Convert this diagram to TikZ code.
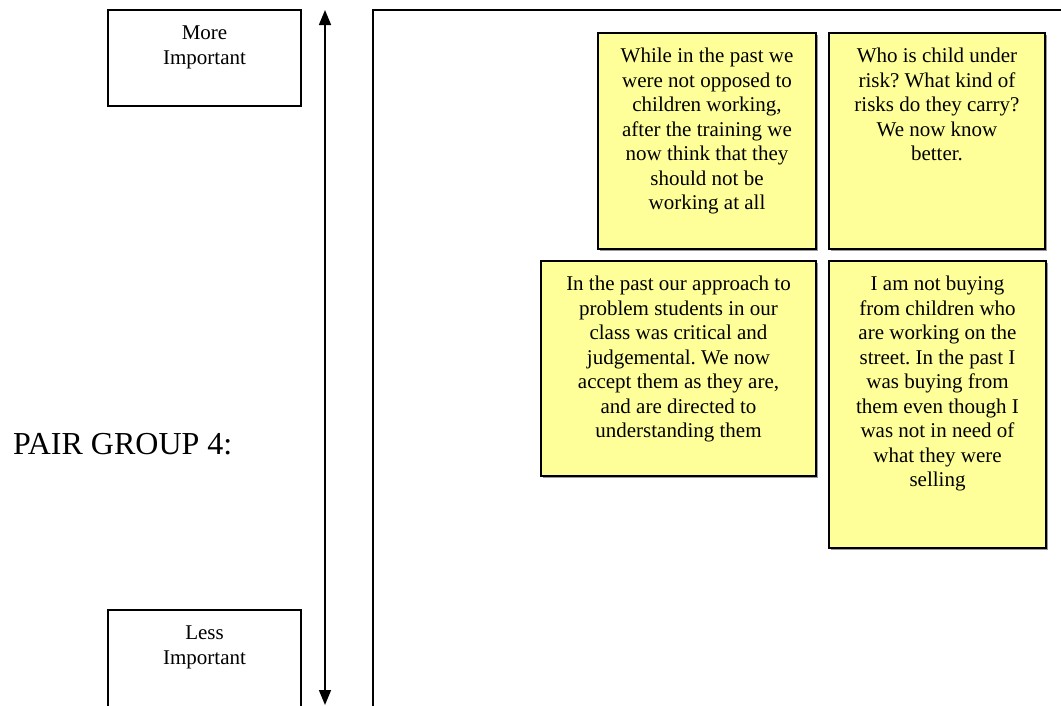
\documentclass[tikz,border=0pt]{standalone}
\usepackage{fontspec}
\setmainfont{Liberation Serif}
\usetikzlibrary{arrows.meta,shadows}
\definecolor{notefill}{HTML}{FFFF99}
\frenchspacing
\begin{document}
\begin{tikzpicture}[x=1pt,y=-1pt,
  every node/.style={inner sep=0pt, outer sep=0pt},
  rankbox/.style={draw, line width=1.6pt, fill=white, anchor=north west},
  note/.style={draw, line width=1.8pt, fill=notefill, anchor=north west,
    drop shadow={shadow xshift=2.4pt, shadow yshift=-2.4pt, fill=black!40, opacity=1}},
  body/.style={font=\fontsize{21}{24.5}\selectfont\frenchspacing, align=center, anchor=north},
  axis/.style={line width=1.6pt, {Triangle[length=15pt,width=12pt]}-{Triangle[length=15pt,width=12pt]}},
  frame/.style={line width=1.8pt}]
\useasboundingbox (0,0) rectangle (1061,705);

% importance scale on the left
\node[rankbox, minimum width=193pt, minimum height=96pt] (more) at (108,10) {};
\node[body] (moret) at ([yshift=-16pt]more.north) {More\\Important};
\node[rankbox, minimum width=193pt, minimum height=110pt] (less) at (108,610) {};
\node[body] (lesst) at ([yshift=-16pt]less.north) {Less\\Important};

\coordinate (axtop) at (325,10);
\coordinate (axbot) at (325,705);
\draw[axis] (axbot) -- (axtop);

\node[font=\fontsize{32}{36}\selectfont, anchor=base west] (group) at (13,454) {PAIR GROUP 4:};

% board frame
\coordinate (frbot) at (373,720);
\coordinate (frcorner) at (373,10);
\coordinate (frright) at (1080,10);
\draw[frame] (frbot) -- (frcorner) -- (frright);

% sticky notes
\node[note, minimum width=218pt, minimum height=216pt] (n1) at (598,33) {};
\node[body] (t1) at ([yshift=-15pt]n1.north) {While in the past we\\were not opposed to\\children working,\\after the training we\\now think that they\\should not be\\working at all};

\node[note, minimum width=216pt, minimum height=216pt] (n2) at (829,33) {};
\node[body] (t2) at ([yshift=-15pt]n2.north) {Who is child under\\risk? What kind of\\risks do they carry?\\We now know\\better.};

\node[note, minimum width=275pt, minimum height=215pt] (n3) at (541,261) {};
\node[body] (t3) at ([yshift=-15pt]n3.north) {In the past our approach to\\problem students in our\\class was critical and\\judgemental. We now\\accept them as they are,\\and are directed to\\understanding them};

\node[note, minimum width=217pt, minimum height=287pt] (n4) at (829,261) {};
\node[body] (t4) at ([yshift=-15pt]n4.north) {I am not buying\\from children who\\are working on the\\street. In the past I\\was buying from\\them even though I\\was not in need of\\what they were\\selling};
\end{tikzpicture}
\end{document}
